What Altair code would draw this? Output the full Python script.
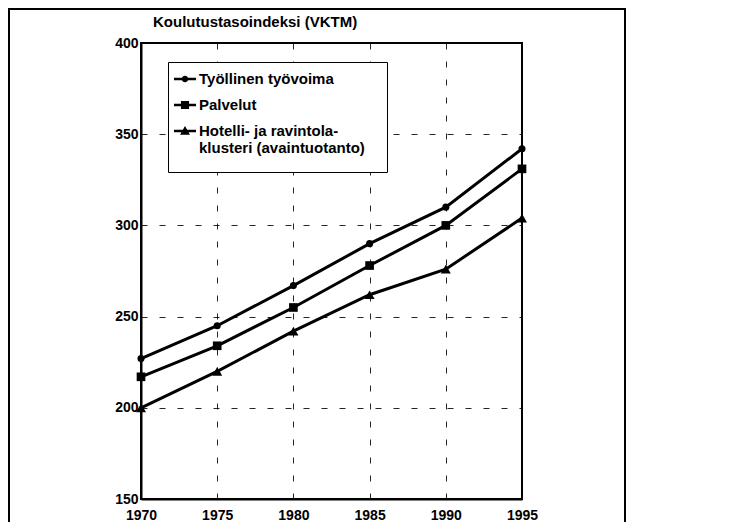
import altair as alt
import pandas as pd

years = [1970, 1975, 1980, 1985, 1990, 1995]
tyollinen = [227, 245, 267, 290, 310, 342]
palvelut = [217, 234, 255, 278, 300, 331]
hotelli = [200, 220, 242, 262, 276, 304]
series_names = ["Työllinen työvoima", "Palvelut",
                "Hotelli- ja ravintola-klusteri (avaintuotanto)"]
y_ticks = [150, 200, 250, 300, 350, 400]
title_text = "Koulutustasoindeksi (VKTM)"

rows = []
for name, vals in zip(series_names, [tyollinen, palvelut, hotelli]):
    for yr, v in zip(years, vals):
        rows.append({"Vuosi": yr, "Indeksi": v, "Sarja": name})
df = pd.DataFrame(rows)

FONT = "Liberation Sans, Arial, sans-serif"

x = alt.X("Vuosi:Q", scale=alt.Scale(domain=[1970, 1995], nice=False, zero=False),
          axis=alt.Axis(values=years, format="d", title=None, labelPadding=9,
                        labelFlush=False))
y = alt.Y("Indeksi:Q", scale=alt.Scale(domain=[150, 400], nice=False, zero=False),
          axis=alt.Axis(values=y_ticks, title=None, labelPadding=3, labelFlush=False))

lines = alt.Chart(df).mark_line(color="black", strokeWidth=3).encode(
    x=x, y=y, detail="Sarja:N")

points = alt.Chart(df).mark_point(filled=True, color="black", opacity=1).encode(
    x=x, y=y,
    shape=alt.Shape("Sarja:N", scale=alt.Scale(domain=series_names,
                    range=["circle", "square", "triangle-up"]), legend=None),
    size=alt.Size("Sarja:N", scale=alt.Scale(domain=series_names,
                  range=[50, 100, 120]), legend=None),
)

# legend symbols: short line with marker; the empty "M..Z" subpaths only widen
# the legend box (no visible ink)
BAR = "M-1,-0.11H1V0.11H-1Z"
legend_paths = [
    BAR + "M0.3,0A0.3,0.3,0,1,1,-0.3,0A0.3,0.3,0,1,1,0.3,0ZM17.8,0Z",
    BAR + "M-0.37,-0.37H0.37V0.37H-0.37Z",
    BAR + "M0,-0.45L0.45,0.33H-0.45ZM0,3.1Z",
]
multi = ("datum.label == 'Hotelli- ja ravintola-klusteri (avaintuotanto)' ? "
         "['Hotelli- ja ravintola-', 'klusteri (avaintuotanto)'] : datum.label")

legend_layer = alt.Chart(df).mark_point(
    filled=True, fill="black", opacity=0
).encode(
    x=x, y=y,
    shape=alt.Shape("Sarja:N", scale=alt.Scale(domain=series_names, range=legend_paths),
                    legend=alt.Legend(title=None,
                                      orient="none", legendX=27, legendY=19,
                                      strokeColor="black", fillColor="white", padding=6,
                                      symbolSize=484, symbolStrokeWidth=0,
                                      symbolFillColor="black",
                                      symbolOpacity=1, labelFont=FONT, labelFontSize=15,
                                      labelFontWeight="bold", labelColor="black",
                                      labelLimit=400, rowPadding=7, labelOffset=3,
                                      labelExpr=multi)),
)

frame = alt.Chart(alt.Data(values=[{"k": 1}])).mark_rect(
    fillOpacity=0, stroke="black", strokeWidth=2).encode(
    x=alt.value(-132), x2=alt.value(484), y=alt.value(-34), y2=alt.value(530))

chart = alt.layer(frame, lines, points, legend_layer).resolve_scale(
    shape="independent"
).properties(
    width=381, height=456,
    padding={"left": 133, "top": 35, "right": 221, "bottom": 23},
    autosize=alt.AutoSizeParams(type="none"),
    title=alt.TitleParams(title_text, anchor="start", frame="group", dx=12, dy=22,
                          offset=0, font=FONT, fontSize=15, fontWeight="bold",
                          color="black"),
).configure_view(
    stroke="black", strokeWidth=2
).configure_axis(
    domainColor="black", domainWidth=2, ticks=False,
    labelFont=FONT, labelFontSize=14, labelFontWeight="bold", labelColor="black",
    gridColor="black", gridDash=[6, 12], gridWidth=1, gridOpacity=0.85,
)

chart.save("out.html", embed_options={"renderer": "svg", "actions": False})
